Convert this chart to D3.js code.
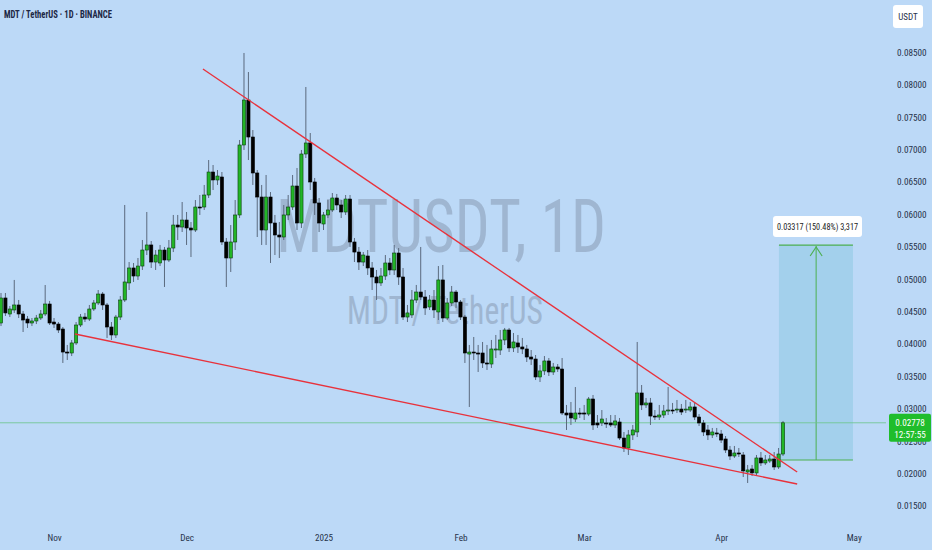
<!DOCTYPE html>
<html><head><meta charset="utf-8">
<script src="https://cdn.jsdelivr.net/npm/d3@7"></script>
<style>
body{margin:0;background:#bcd9f7;}
svg{display:block;}
</style></head>
<body><svg id="chart" width="932" height="550"></svg>
<script>
// ---- DATA (MDT/USDT daily) ----
const startDate = "2024-10-20";   // first daily candle, one candle per day
const opens = [0.04318,0.04704,0.04457,0.04519,0.04596,0.04457,0.04379,0.04318,0.04349,0.04395,
0.04457,0.04611,0.04333,0.04302,0.04225,0.03870,0.03855,0.04010,0.04287,0.04410,
0.04379,0.04534,0.04627,0.04765,0.04596,0.04256,0.04133,0.04410,0.04673,0.04936,
0.05167,0.05043,0.05197,0.05444,0.05522,0.05259,0.05244,0.05444,0.05290,0.05475,
0.05830,0.05799,0.05907,0.05784,0.05753,0.06108,0.06108,0.06293,0.06648,0.06525,
0.06571,0.05568,0.05321,0.05568,0.05985,0.07065,0.07759,0.07188,0.06633,0.06262,
0.05753,0.06262,0.05861,0.05676,0.05645,0.05985,0.06108,0.06432,0.05861,0.06926,
0.07096,0.06494,0.06170,0.05846,0.05985,0.06062,0.06247,0.06139,0.06031,0.06231,
0.05568,0.05413,0.05259,0.05352,0.05167,0.05028,0.04936,0.05043,0.05244,0.05136,
0.05398,0.05028,0.04410,0.04442,0.04673,0.04796,0.04719,0.04565,0.04673,0.04488,
0.04982,0.04395,0.04627,0.04796,0.04642,0.04410,0.03839,0.03870,0.03855,0.03855,
0.03701,0.03685,0.03901,0.03901,0.04056,0.04210,0.03933,0.04010,0.03948,0.03917,
0.03793,0.03762,0.03485,0.03578,0.03732,0.03562,0.03639,0.03608,0.02929,0.02929,
0.02836,0.02929,0.02929,0.02913,0.03145,0.02775,0.02775,0.02775,0.02775,0.02744,
0.02790,0.02543,0.02389,0.02590,0.02636,0.03238,0.03053,0.03084,0.02882,0.02867,
0.02898,0.02960,0.02975,0.02975,0.02990,0.02975,0.02975,0.03022,0.02867,0.02775,
0.02667,0.02590,0.02621,0.02605,0.02528,0.02358,0.02265,0.02312,0.02281,0.02019,
0.02065,0.02004,0.02235,0.02158,0.02188,0.02219,0.02096,0.02296];
const highs = [0.04781,0.04781,0.04580,0.04982,0.04673,0.04504,0.04426,0.04395,0.04442,0.04519,
0.04904,0.04658,0.04395,0.04333,0.04256,0.03979,0.04056,0.04333,0.04457,0.04473,
0.04596,0.04673,0.04827,0.04796,0.04627,0.04333,0.04442,0.04734,0.06139,0.05259,
0.05244,0.05321,0.05599,0.06031,0.05583,0.05444,0.05522,0.05491,0.05599,0.05985,
0.05985,0.06185,0.06031,0.05876,0.06216,0.06293,0.06448,0.06833,0.06756,0.06679,
0.06648,0.05630,0.05830,0.06216,0.07142,0.08485,0.08191,0.07296,0.06679,0.06448,
0.06602,0.06339,0.05985,0.05876,0.06139,0.06293,0.06602,0.06710,0.06988,0.07960,
0.07250,0.06556,0.06247,0.06031,0.06216,0.06324,0.06309,0.06216,0.06293,0.06293,
0.05630,0.05491,0.05413,0.05444,0.05259,0.05136,0.05167,0.05367,0.05321,0.05522,
0.05475,0.05167,0.04596,0.04827,0.04905,0.05491,0.04827,0.04750,0.04827,0.05197,
0.05213,0.04704,0.04889,0.04827,0.04673,0.04442,0.03979,0.04102,0.03979,0.04025,
0.03979,0.04056,0.04133,0.04210,0.04241,0.04241,0.04164,0.04133,0.04087,0.03979,
0.03901,0.03824,0.03670,0.03808,0.03778,0.03701,0.03685,0.03778,0.03053,0.03099,
0.03330,0.03007,0.03053,0.03176,0.03207,0.02898,0.02975,0.02852,0.02898,0.02898,
0.02852,0.02636,0.02667,0.02744,0.04025,0.03361,0.03161,0.03161,0.02975,0.03053,
0.03053,0.03330,0.03084,0.03130,0.03068,0.03130,0.03099,0.03084,0.02913,0.02821,
0.02744,0.02698,0.02698,0.02667,0.02574,0.02420,0.02420,0.02389,0.02327,0.02127,
0.02127,0.02281,0.02327,0.02281,0.02281,0.02327,0.02389,0.02806];
const lows = [0.04271,0.04426,0.04410,0.04473,0.04395,0.04179,0.04241,0.04271,0.04302,0.04364,
0.04426,0.04287,0.04241,0.04164,0.03701,0.03747,0.03808,0.03979,0.04256,0.04333,
0.04349,0.04504,0.04596,0.04519,0.04087,0.04056,0.04087,0.04364,0.04642,0.04827,
0.04951,0.04982,0.05136,0.05367,0.05167,0.05136,0.05197,0.04874,0.05259,0.05413,
0.05599,0.05722,0.05522,0.05336,0.05722,0.05985,0.06062,0.06247,0.06370,0.06448,
0.05522,0.04874,0.05105,0.05444,0.05938,0.06988,0.06833,0.06448,0.05645,0.05522,
0.05522,0.05244,0.05367,0.05321,0.05599,0.05907,0.06062,0.05753,0.05784,0.06864,
0.06370,0.05985,0.05722,0.05753,0.05938,0.06031,0.06062,0.05938,0.05985,0.05491,
0.05259,0.05136,0.05197,0.05059,0.04827,0.04673,0.04889,0.04982,0.05059,0.05059,
0.04905,0.04364,0.04333,0.04395,0.04627,0.04673,0.04442,0.04519,0.04395,0.04364,
0.04333,0.04364,0.04580,0.04550,0.04364,0.03701,0.03022,0.03747,0.03562,0.03624,
0.03593,0.03624,0.03778,0.03824,0.03979,0.03870,0.03870,0.03855,0.03839,0.03716,
0.03670,0.03438,0.03407,0.03516,0.03500,0.03516,0.03562,0.02898,0.02667,0.02744,
0.02790,0.02852,0.02821,0.02882,0.02667,0.02698,0.02728,0.02698,0.02713,0.02698,
0.02512,0.02327,0.02281,0.02512,0.02558,0.02975,0.03007,0.02744,0.02821,0.02821,
0.02852,0.02898,0.02913,0.02929,0.02898,0.02929,0.02944,0.02821,0.02728,0.02574,
0.02512,0.02543,0.02558,0.02466,0.02312,0.02204,0.02235,0.02250,0.01941,0.01849,
0.01957,0.01972,0.02111,0.02127,0.02158,0.02050,0.02065,0.02265];
const closes = [0.04704,0.04473,0.04534,0.04596,0.04457,0.04364,0.04318,0.04349,0.04395,0.04457,
0.04611,0.04318,0.04302,0.04210,0.03870,0.03855,0.04010,0.04287,0.04410,0.04379,
0.04534,0.04627,0.04765,0.04596,0.04256,0.04133,0.04410,0.04673,0.04951,0.05167,
0.05043,0.05197,0.05444,0.05522,0.05259,0.05367,0.05444,0.05290,0.05475,0.05830,
0.05799,0.05907,0.05784,0.05753,0.06108,0.06093,0.06293,0.06648,0.06525,0.06586,
0.05568,0.05321,0.05568,0.05985,0.07065,0.07759,0.07188,0.06633,0.06262,0.05753,
0.06262,0.05861,0.05676,0.05645,0.05985,0.06108,0.06432,0.05861,0.06926,0.07096,
0.06494,0.06170,0.05861,0.05985,0.06062,0.06247,0.06139,0.06031,0.06231,0.05568,
0.05413,0.05259,0.05367,0.05167,0.05028,0.04936,0.05043,0.05244,0.05136,0.05398,
0.05028,0.04410,0.04473,0.04673,0.04796,0.04719,0.04550,0.04673,0.04519,0.04982,
0.04395,0.04627,0.04796,0.04642,0.04410,0.03855,0.03870,0.03855,0.03839,0.03701,
0.03685,0.03917,0.03917,0.04056,0.04210,0.03933,0.04025,0.03948,0.03917,0.03793,
0.03762,0.03485,0.03578,0.03732,0.03562,0.03639,0.03608,0.02929,0.02898,0.02852,
0.02929,0.02913,0.02913,0.03145,0.02744,0.02744,0.02836,0.02767,0.02744,0.02806,
0.02543,0.02389,0.02590,0.02667,0.03238,0.03053,0.03084,0.02882,0.02867,0.02898,
0.02960,0.02975,0.02967,0.02990,0.02944,0.02990,0.03022,0.02867,0.02775,0.02636,
0.02590,0.02636,0.02605,0.02512,0.02358,0.02265,0.02312,0.02296,0.02035,0.02050,
0.02004,0.02235,0.02158,0.02204,0.02219,0.02096,0.02296,0.02778];

const monthTicks  = ["2024-11-01","2024-12-01","2025-01-01","2025-02-01","2025-03-01","2025-04-01","2025-05-01"];
const monthLabels = ["Nov","Dec","2025","Feb","Mar","Apr","May"];
const priceTicks  = [0.015,0.020,0.025,0.030,0.035,0.040,0.045,0.050,0.055,0.060,0.065,0.070,0.075,0.080,0.085];

// falling wedge trend lines [time, price]
const upperTrend = [["2024-12-04T17:00", 0.08237], ["2025-04-18T05:00", 0.02019]];
const lowerTrend = [["2024-11-05T18:00", 0.04148], ["2025-04-18T05:00", 0.01833]];

// long-position projection
const targetBase = 0.02204, targetTop = 0.05521;
const targetStart = "2025-04-14T02:00", targetEnd = "2025-04-30T20:00", targetArrowAt = "2025-04-22T12:00";
const targetLabel = "0.03317 (150.48%) 3,317";

const lastPrice = 0.02778, countdown = "12:57:55";
const titleText = "MDT / TetherUS · 1D · BINANCE";
const watermark1 = "MDTUSDT, 1D", watermark2 = "MDT / TetherUS";
const currency = "USDT";

// ---- CHART ----
const W = 932, H = 550;
const svg = d3.select("#chart");
const narrow = "'Liberation Sans Narrow','Roboto Condensed','Arial Narrow','Liberation Sans',sans-serif";
const txtCol = "#27324a";

const DAY = 86400000;
const t0 = new Date(startDate + "T00:00:00Z");
const candles = opens.map((o, i) => ({date: new Date(+t0 + i * DAY), o, h: highs[i], l: lows[i], c: closes[i]}));
const parse = s => new Date(s.length > 10 ? s + ":00Z" : s + "T00:00:00Z");

const x = d3.scaleUtc().domain([t0, candles[candles.length - 1].date]).range([1, 783]);
const y = d3.scaleLinear().domain([0.015, 0.085]).range([505.6, 52]);

svg.append("rect").attr("width", W).attr("height", H).attr("fill", "#bcd9f7");

// watermark
svg.append("text").attr("x", 441).attr("y", 252).attr("text-anchor", "middle")
  .attr("font-family", narrow).attr("font-size", 74).attr("fill", "#8ea2bb").attr("opacity", 0.62)
  .attr("textLength", 330).attr("lengthAdjust", "spacingAndGlyphs").text(watermark1);
svg.append("text").attr("x", 445).attr("y", 324).attr("text-anchor", "middle")
  .attr("font-family", narrow).attr("font-size", 38).attr("fill", "#8ea2bb").attr("opacity", 0.62)
  .attr("textLength", 196).attr("lengthAdjust", "spacingAndGlyphs").text(watermark2);

// title
svg.append("text").attr("x", 4).attr("y", 18).attr("font-family", narrow).attr("font-weight", "bold")
  .attr("font-size", 10.5).attr("fill", "#1d2845").attr("textLength", 108).attr("lengthAdjust", "spacingAndGlyphs")
  .text(titleText);

// USDT box
svg.append("rect").attr("x", 893).attr("y", 5).attr("width", 30).attr("height", 23).attr("rx", 3).attr("fill", "#fff");
svg.append("text").attr("x", 908).attr("y", 20).attr("text-anchor", "middle").attr("font-family", narrow)
  .attr("font-size", 9).attr("fill", txtCol).text(currency);

// price axis
const yAxis = svg.append("g").attr("transform", "translate(886,0)")
  .call(d3.axisRight(y).tickValues(priceTicks).tickFormat(d3.format(".5f")).tickSize(0));
yAxis.select(".domain").remove();
yAxis.selectAll("text").attr("x", 11).attr("dy", "0.35em").attr("font-family", narrow).attr("font-size", 9.2).attr("fill", txtCol);

// time axis
const xAxis = svg.append("g").attr("transform", "translate(0,530)")
  .call(d3.axisBottom(x).tickValues(monthTicks.map(parse)).tickFormat((d, i) => monthLabels[i]).tickSize(0));
xAxis.select(".domain").remove();
xAxis.selectAll("text").attr("y", 4).attr("font-family", narrow).attr("font-size", 9.2).attr("fill", txtCol);

// projection box
const tx0 = x(parse(targetStart)), tx1 = x(parse(targetEnd)), tax = x(parse(targetArrowAt));
svg.append("rect").attr("x", tx0).attr("y", y(targetTop)).attr("width", tx1 - tx0)
  .attr("height", y(targetBase) - y(targetTop)).attr("fill", "#a3d0ec");
svg.append("line").attr("x1", tx0).attr("x2", tx1).attr("y1", y(targetTop)).attr("y2", y(targetTop)).attr("stroke", "#4caf50").attr("stroke-width", 1.2);
svg.append("line").attr("x1", tx0).attr("x2", tx1).attr("y1", y(targetBase)).attr("y2", y(targetBase)).attr("stroke", "#4caf50").attr("stroke-width", 1.2);
svg.append("line").attr("x1", tax).attr("x2", tax).attr("y1", y(targetBase)).attr("y2", y(targetTop) + 1).attr("stroke", "#4caf50").attr("stroke-width", 1);
svg.append("path").attr("d", `M${tax - 6},${y(targetTop) + 11}L${tax},${y(targetTop) + 2}L${tax + 6},${y(targetTop) + 11}`)
  .attr("fill", "none").attr("stroke", "#4caf50").attr("stroke-width", 1.1);
svg.append("rect").attr("x", 773).attr("y", 216).attr("width", 89).attr("height", 21).attr("rx", 3).attr("fill", "#fff");
svg.append("text").attr("x", 817.5).attr("y", 230).attr("text-anchor", "middle").attr("font-family", narrow)
  .attr("font-size", 9).attr("fill", "#222").attr("textLength", 81).attr("lengthAdjust", "spacingAndGlyphs").text(targetLabel);

// current price line
svg.append("line").attr("x1", 0).attr("x2", 886).attr("y1", y(lastPrice)).attr("y2", y(lastPrice))
  .attr("stroke", "#6cc68a").attr("stroke-width", 1).attr("opacity", 0.8);

// candles
const bw = 3.2;
const g = svg.append("g");
g.selectAll("line.wick").data(candles).join("line").attr("class", "wick")
  .attr("x1", d => x(d.date)).attr("x2", d => x(d.date))
  .attr("y1", d => y(d.h)).attr("y2", d => y(d.l))
  .attr("stroke", "#5b6a7e").attr("stroke-width", 1);
g.selectAll("rect.body").data(candles).join("rect").attr("class", "body")
  .attr("x", d => x(d.date) - bw / 2).attr("width", bw)
  .attr("y", d => y(Math.max(d.o, d.c)))
  .attr("height", d => Math.max(1, Math.abs(y(d.o) - y(d.c))))
  .attr("fill", d => d.c >= d.o ? "#22b526" : "#000")
  .attr("stroke", d => d.c >= d.o ? "#0b3d0e" : "#000").attr("stroke-width", 0.6);

// trend lines
const line = d3.line().x(d => x(parse(d[0]))).y(d => y(d[1]));
[upperTrend, lowerTrend].forEach(tl => svg.append("path").attr("d", line(tl))
  .attr("fill", "none").attr("stroke", "#e8323c").attr("stroke-width", 1.4));

// last price label (covers the 0.02500 tick as in the original)
const ly = y(lastPrice);
svg.append("rect").attr("x", 889).attr("y", ly - 9).attr("width", 42).attr("height", 28).attr("rx", 2).attr("fill", "#1fbd2b");
svg.append("text").attr("x", 910).attr("y", ly + 3).attr("text-anchor", "middle").attr("font-family", narrow)
  .attr("font-size", 9.2).attr("fill", "#fff").text(d3.format(".5f")(lastPrice));
svg.append("text").attr("x", 910).attr("y", ly + 15).attr("text-anchor", "middle").attr("font-family", narrow)
  .attr("font-size", 9.2).attr("fill", "#fff").text(countdown);
</script>
</body></html>
